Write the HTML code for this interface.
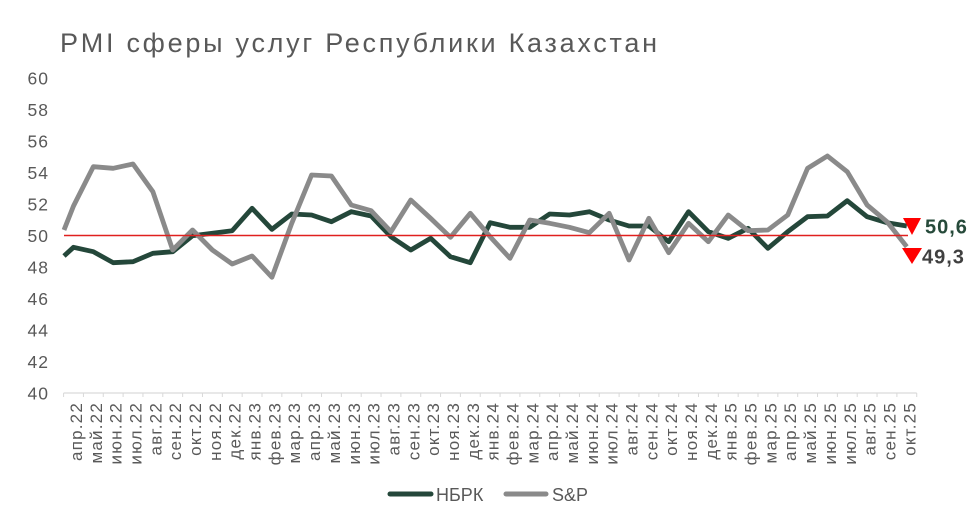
<!DOCTYPE html>
<html><head><meta charset="utf-8"><style>
html,body{margin:0;padding:0;background:#fff;}
svg{display:block;}
text{font-family:"Liberation Sans","DejaVu Sans",sans-serif;}
</style></head><body>
<svg width="977" height="524" viewBox="0 0 977 524" xmlns="http://www.w3.org/2000/svg">
<rect width="977" height="524" fill="#fff"/>
<text x="60" y="52" font-size="27" fill="#595959" textLength="597" lengthAdjust="spacing">PMI сферы услуг Республики Казахстан</text>
<g font-size="17.5" fill="#595959" text-anchor="end" letter-spacing="1">
<text x="49" y="84.5">60</text>
<text x="49" y="116">58</text>
<text x="49" y="147.5">56</text>
<text x="49" y="179">54</text>
<text x="49" y="210.5">52</text>
<text x="49" y="242">50</text>
<text x="49" y="273.5">48</text>
<text x="49" y="305">46</text>
<text x="49" y="336.5">44</text>
<text x="49" y="368">42</text>
<text x="49" y="399.5">40</text>
</g>
<line x1="63.6" y1="393" x2="916.7" y2="393" stroke="#d9d9d9" stroke-width="1.2"/>
<path stroke="#d9d9d9" stroke-width="1" d="M63.6 393v4M83.44 393v4M103.28 393v4M123.12 393v4M142.96 393v4M162.8 393v4M182.64 393v4M202.48 393v4M222.32 393v4M242.16 393v4M262 393v4M281.84 393v4M301.68 393v4M321.52 393v4M341.36 393v4M361.2 393v4M381.04 393v4M400.88 393v4M420.72 393v4M440.56 393v4M460.4 393v4M480.24 393v4M500.08 393v4M519.92 393v4M539.76 393v4M559.6 393v4M579.44 393v4M599.28 393v4M619.12 393v4M638.96 393v4M658.8 393v4M678.64 393v4M698.48 393v4M718.32 393v4M738.16 393v4M758 393v4M777.84 393v4M797.68 393v4M817.52 393v4M837.36 393v4M857.2 393v4M877.04 393v4M896.88 393v4M916.72 393v4"/>
<g font-size="17" fill="#595959" text-anchor="end" letter-spacing="1.2">
<text transform="translate(82,402) rotate(-90)">апр.22</text>
<text transform="translate(101.84,402) rotate(-90)">май.22</text>
<text transform="translate(121.68,402) rotate(-90)">июн.22</text>
<text transform="translate(141.52,402) rotate(-90)">июл.22</text>
<text transform="translate(161.36,402) rotate(-90)">авг.22</text>
<text transform="translate(181.2,402) rotate(-90)">сен.22</text>
<text transform="translate(201.04,402) rotate(-90)">окт.22</text>
<text transform="translate(220.88,402) rotate(-90)">ноя.22</text>
<text transform="translate(240.72,402) rotate(-90)">дек.22</text>
<text transform="translate(260.56,402) rotate(-90)">янв.23</text>
<text transform="translate(280.4,402) rotate(-90)">фев.23</text>
<text transform="translate(300.24,402) rotate(-90)">мар.23</text>
<text transform="translate(320.08,402) rotate(-90)">апр.23</text>
<text transform="translate(339.92,402) rotate(-90)">май.23</text>
<text transform="translate(359.76,402) rotate(-90)">июн.23</text>
<text transform="translate(379.6,402) rotate(-90)">июл.23</text>
<text transform="translate(399.44,402) rotate(-90)">авг.23</text>
<text transform="translate(419.28,402) rotate(-90)">сен.23</text>
<text transform="translate(439.12,402) rotate(-90)">окт.23</text>
<text transform="translate(458.96,402) rotate(-90)">ноя.23</text>
<text transform="translate(478.8,402) rotate(-90)">дек.23</text>
<text transform="translate(498.64,402) rotate(-90)">янв.24</text>
<text transform="translate(518.48,402) rotate(-90)">фев.24</text>
<text transform="translate(538.32,402) rotate(-90)">мар.24</text>
<text transform="translate(558.16,402) rotate(-90)">апр.24</text>
<text transform="translate(578,402) rotate(-90)">май.24</text>
<text transform="translate(597.84,402) rotate(-90)">июн.24</text>
<text transform="translate(617.68,402) rotate(-90)">июл.24</text>
<text transform="translate(637.52,402) rotate(-90)">авг.24</text>
<text transform="translate(657.36,402) rotate(-90)">сен.24</text>
<text transform="translate(677.2,402) rotate(-90)">окт.24</text>
<text transform="translate(697.04,402) rotate(-90)">ноя.24</text>
<text transform="translate(716.88,402) rotate(-90)">дек.24</text>
<text transform="translate(736.72,402) rotate(-90)">янв.25</text>
<text transform="translate(756.56,402) rotate(-90)">фев.25</text>
<text transform="translate(776.4,402) rotate(-90)">мар.25</text>
<text transform="translate(796.24,402) rotate(-90)">апр.25</text>
<text transform="translate(816.08,402) rotate(-90)">май.25</text>
<text transform="translate(835.92,402) rotate(-90)">июн.25</text>
<text transform="translate(855.76,402) rotate(-90)">июл.25</text>
<text transform="translate(875.6,402) rotate(-90)">авг.25</text>
<text transform="translate(895.44,402) rotate(-90)">сен.25</text>
<text transform="translate(915.28,402) rotate(-90)">окт.25</text>
</g>
<polyline fill="none" stroke="#24473a" stroke-width="4.8" stroke-linejoin="round" points="64,256 73.5,247.3 93.34,251.7 113.18,262.7 133.02,261.7 152.86,253.3 172.7,251.7 192.54,235.7 212.38,233.3 232.22,230.7 252.06,208.3 271.9,229.3 291.74,214 311.58,215 331.42,221.7 351.26,211.7 371.1,216 390.94,236.7 410.78,250 430.62,238.3 450.46,256.7 470.3,262.7 490.14,222.7 509.98,227.3 529.82,227.3 549.66,214 569.5,215 589.34,211.7 609.18,220 629.02,226 648.86,226 668.7,241.7 688.54,211.7 708.38,231.7 728.22,238.3 748.06,228.3 767.9,248.3 787.74,231.7 807.58,216.7 827.42,216 847.26,200.7 867.1,216.7 886.94,222.7 906.78,226"/>
<polyline fill="none" stroke="#8a8a8a" stroke-width="4.8" stroke-linejoin="round" points="64,230 73.5,206 93.34,166.7 113.18,168.3 133.02,164 152.86,191.7 172.7,250 192.54,230 212.38,250 232.22,264 252.06,256 271.9,277.3 291.74,223.3 311.58,175 331.42,176 351.26,205 371.1,210.7 390.94,231.7 410.78,200 430.62,218.3 450.46,237.3 470.3,213.3 490.14,236.7 509.98,258.3 529.82,220 549.66,223.3 569.5,227.3 589.34,232.7 609.18,213.3 629.02,260 648.86,218.3 668.7,252.7 688.54,223.3 708.38,241.7 728.22,215 748.06,230.7 767.9,230 787.74,215 807.58,168.3 827.42,156 847.26,171.7 867.1,205 886.94,221.7 906.78,246.7"/>
<line x1="64" y1="235.5" x2="908" y2="235.5" stroke="#e0201f" stroke-width="1.6"/>
<polygon points="903,218 921,218 912,235" fill="#ff0000"/>
<polygon points="902,248 922,248 912,264" fill="#ff0000"/>
<text x="925" y="233.5" font-size="20" font-weight="bold" fill="#264a3a" letter-spacing="1">50,6</text>
<text x="922" y="263.5" font-size="20" font-weight="bold" fill="#404040" letter-spacing="1">49,3</text>
<line x1="390" y1="494" x2="431" y2="494" stroke="#24473a" stroke-width="5" stroke-linecap="round"/>
<text x="436" y="501" font-size="18" fill="#595959">НБРК</text>
<line x1="506" y1="494" x2="546" y2="494" stroke="#8a8a8a" stroke-width="5" stroke-linecap="round"/>
<text x="552" y="501" font-size="18" fill="#595959">S&amp;P</text>
</svg>
</body></html>
